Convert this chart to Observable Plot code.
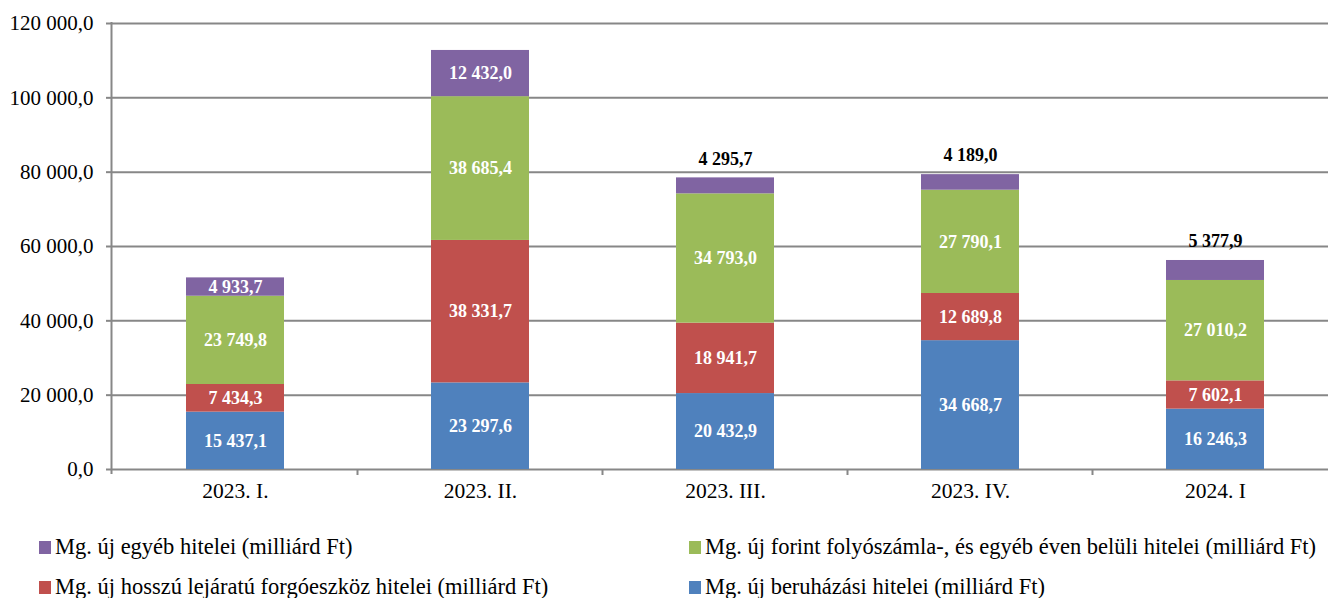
<!DOCTYPE html>
<html>
<head>
<meta charset="utf-8">
<script src="https://cdn.jsdelivr.net/npm/d3@7"></script>
<script src="https://cdn.jsdelivr.net/npm/@observablehq/plot@0.6"></script>
<style>
  html, body { margin: 0; padding: 0; background: #fff; }
  body { width: 1328px; height: 598px; overflow: hidden; font-family: "Liberation Serif", "Times New Roman", serif; }
  #chart svg { display: block; overflow: visible; }
  .legend { position: relative; height: 98px; font-size: 22.5px; color: #000; }
  .item { position: absolute; display: flex; align-items: center; white-space: nowrap; line-height: 26px; }
  .sw { width: 12px; height: 13px; margin-right: 4px; }
</style>
</head>
<body>
<div id="chart"></div>
<div class="legend" id="legend"></div>
<script>
const categories = ["2023. I.", "2023. II.", "2023. III.", "2023. IV.", "2024. I"];
const seriesNames = [
  "Mg. új beruházási hitelei (milliárd Ft)",
  "Mg. új hosszú lejáratú forgóeszköz hitelei (milliárd Ft)",
  "Mg. új forint folyószámla-, és egyéb éven belüli hitelei (milliárd Ft)",
  "Mg. új egyéb hitelei (milliárd Ft)"
];
const colors = ["#4F81BD", "#C0504D", "#9BBB59", "#8064A2"];
const beruhazasi = [15437.1, 23297.6, 20432.9, 34668.7, 16246.3];
const hosszu = [7434.3, 38331.7, 18941.7, 12689.8, 7602.1];
const folyoszamla = [23749.8, 38685.4, 34793.0, 27790.1, 27010.2];
const egyeb = [4933.7, 12432.0, 4295.7, 4189.0, 5377.9];
const egyebLabelAbove = [false, false, true, true, true];
const yTicks = [0, 20000, 40000, 60000, 80000, 100000, 120000];

const seriesValues = [beruhazasi, hosszu, folyoszamla, egyeb];
const loc = d3.formatLocale({decimal: ",", thousands: "\u00a0", grouping: [3]});
const fmt = loc.format(",.1f");

const rows = [];
categories.forEach((c, i) => {
  let base = 0;
  seriesValues.forEach((vals, s) => {
    const v = vals[i];
    rows.push({cat: c, series: seriesNames[s], s, i, v, y1: base, y2: base + v,
      above: s === 3 && egyebLabelAbove[i]});
    base += v;
  });
});

const plot = Plot.plot({
  width: 1328,
  height: 500,
  marginTop: 23,
  marginBottom: 31,
  marginLeft: 112,
  marginRight: 0,
  style: {fontFamily: "'Liberation Serif', 'Times New Roman', serif", fontSize: "20px", color: "#000", background: "#fff", overflow: "visible"},
  x: {domain: categories, paddingInner: 0.6, paddingOuter: 0.3, range: [112, 1337], axis: null, label: null},
  y: {domain: [0, 120000], axis: null, label: null},
  color: {domain: seriesNames, range: colors},
  marks: [
    Plot.ruleY(yTicks, {stroke: "#878787", strokeWidth: 2}),
    Plot.barY(rows, {x: "cat", y1: "y1", y2: "y2", fill: "series"}),
    Plot.text(rows.filter(d => !d.above), {x: "cat", y: d => (d.y1 + d.y2) / 2, text: d => fmt(d.v),
      fill: "#fff", fontWeight: "bold", fontSize: 18}),
    Plot.text(rows.filter(d => d.above), {x: "cat", y: "y2", text: d => fmt(d.v), dy: -19,
      fill: "#000", fontWeight: "bold", fontSize: 18}),
    Plot.axisY({ticks: yTicks, tickFormat: fmt, tickSize: 6, tickPadding: 13, stroke: "#878787", fontSize: 21, strokeWidth: 2, label: null}),
    Plot.axisX({tickSize: 0, tickPadding: 13, fontSize: 21.5, label: null})
  ]
});

const xs = plot.scale("x");
const ysc = plot.scale("y");
document.getElementById("chart").appendChild(plot);
const svg = d3.select(plot);
const y0 = ysc.apply(0), yTop = ysc.apply(120000);
const x0 = 112 - 0.5;
const bw = xs.step;
svg.append("line").attr("x1", x0).attr("x2", x0).attr("y1", yTop - 1).attr("y2", y0 + 5)
  .attr("stroke", "#878787").attr("stroke-width", 2);
categories.slice(1).forEach(c => {
  const xb = xs.apply(c) - (bw - xs.bandwidth) / 2;
  svg.append("line").attr("x1", xb).attr("x2", xb).attr("y1", y0).attr("y2", y0 + 6)
    .attr("stroke", "#878787").attr("stroke-width", 2);
});

const legendOrder = [
  {s: 3, left: 39, top: 47},
  {s: 2, left: 689, top: 47},
  {s: 1, left: 39, top: 87},
  {s: 0, left: 689, top: 87}
];
const lg = document.getElementById("legend");
legendOrder.forEach(o => {
  const d = document.createElement("div");
  d.className = "item";
  d.style.left = o.left + "px";
  d.style.top = (o.top - 13) + "px";
  d.innerHTML = `<span class="sw" style="background:${colors[o.s]}"></span><span>${seriesNames[o.s]}</span>`;
  lg.appendChild(d);
});
</script>
</body>
</html>
